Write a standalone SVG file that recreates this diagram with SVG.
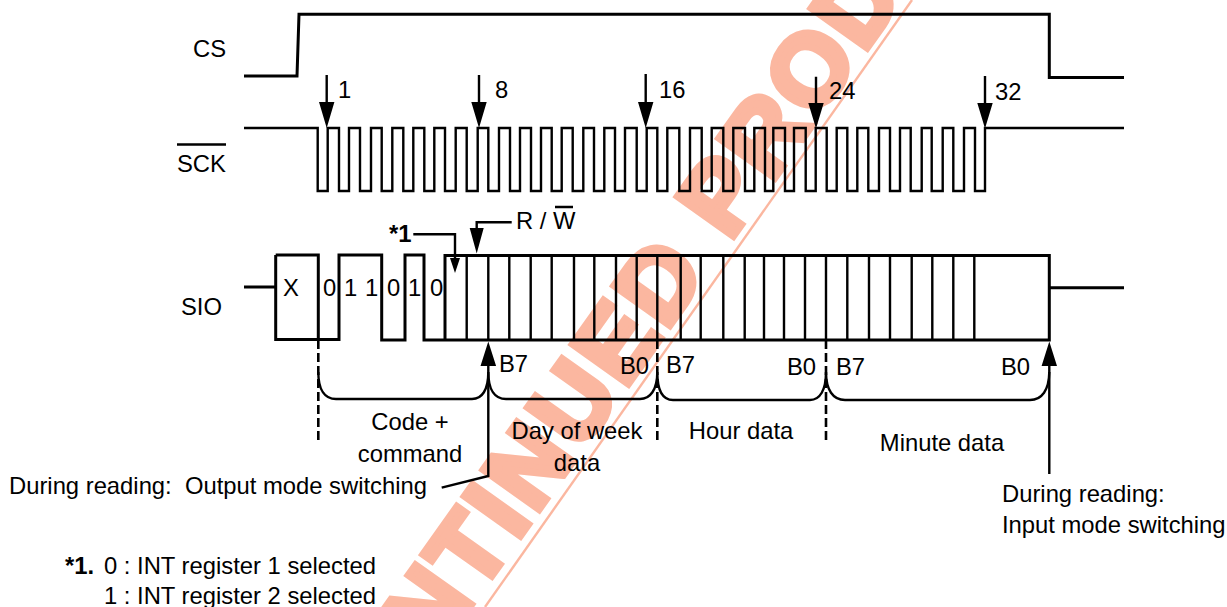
<svg xmlns="http://www.w3.org/2000/svg" width="1227" height="607" viewBox="0 0 1227 607">
<style>
text{font-family:"Liberation Sans",Arial,sans-serif;font-size:23.8px;fill:#000}
.b{font-weight:bold}
.m{text-anchor:middle}
.s{fill:none;stroke:#000;stroke-width:2.4}
.t{fill:none;stroke:#000;stroke-width:3}
.d{fill:none;stroke:#000;stroke-width:2.6;stroke-dasharray:9 4}
.h{fill:#000;stroke:none}
.wm{font-weight:bold;font-size:100px;fill:#fbb7a0;stroke:#fbb7a0;stroke-width:7}
</style>
<g id="watermark">
<text class="wm" transform="translate(433.7 658) rotate(-54.6)" letter-spacing="4.8">NTINUED PROD</text>
<line x1="912" y1="0" x2="485" y2="607" stroke="#fbb7a0" stroke-width="2.4"/>
</g>
<g id="connectors">
<path id="cs-wave" class="t" d="M244 76H297L299 14.3H1049.3V77.5H1124"/>
<path id="sck-wave" class="s" d="M244 128H317.7V191H327.7V128H339V191H349V128H360V191H371V128H381.7V191H392.3V128H403.3V191H413.3V128H424.3V191H434.3V128H445V191H455.7V128H466.7V191H477.7V128H488.3V191H499V128H510V191H520V128H531V191H541V128H551.7V191H561.7V128H572.7V191H583.3V128H594V191H604.3V128H615V191H625V128H636.7V191H646.7V128H657.3V191H667.3V128H679.3V191H690V128H701.7V191H711.7V128H723.3V191H733.3V128H745V191H754.3V128H765V191H773.3V128H785V191H794V128H805.7V191H815.7V128H826.7V191H836.7V128H847.3V191H857.3V128H868.3V191H879V128H890V191H900V128H910.7V191H921.7V128H931.7V191H942.7V128H953.3V191H964V128H975V191H985V128H1124"/>
<path id="sio-wave" class="t" d="M244 287H275.7M275.7 255V339.5H339V255H381.7V340H405V255H424V340H1049.3V255.5H445V340M275.7 255H318.3V340M1049.3 287.7H1124"/>
<path id="sio-bars" class="s" d="M466.7 255.5V340M488.3 255.5V340M509.3 255.5V340M530.7 255.5V340M551.7 255.5V340M574 255.5V340M594.3 255.5V340M616 255.5V340M636.7 255.5V340M657.3 255.5V340M680.7 255.5V340M700.7 255.5V340M723.3 255.5V340M744.7 255.5V340M764 255.5V340M784 255.5V340M805 255.5V340M826 255.5V340M847.3 255.5V340M869 255.5V340M890 255.5V340M911.7 255.5V340M932.3 255.5V340M953.3 255.5V340M974.3 255.5V340"/>
<path class="d" d="M318.3 340V443M657.3 340V443M826 340V443"/>
<path class="s" d="M318.3 372C318.3 390 325 399 336 399H472C482 399 488.3 390 488.3 372C488.3 390 495 399 506 399H640C650 399 657.3 390 657.3 372C657.3 390 662 400 673 400H810C820 400 826 390 826 372C826 390 833 400 845 400H1030C1042 400 1049 390 1049.3 372"/>
<g id="clock-arrows">
<path class="s" d="M326.7 75V105M479 75V105M645.7 74V105M816 76.7V105M985 76V105"/>
<path class="h" d="M319 102H334.4L326.7 128ZM471.3 102H486.7L479 128ZM638 102H653.4L645.7 128ZM808.3 103H823.7L816 128.500ZM977.3 103H992.7L985 128.500Z"/>
</g>
<g id="sio-arrows">
<path class="s" d="M511.700 222.300H476.700V232M413.300 234.300H455V262M488.300 362V476L441.700 487.700M1049.300 362V474"/>
<path class="h" d="M469.700 228H483.700L476.700 253.500ZM450 258H460L455 273ZM480.500 366H496.100L488.300 341.500ZM1041.600 366H1057L1049.300 341.500Z"/>
</g>
<path id="overlines" class="s" d="M177 144.500H226M555 207H573"/>
</g>
<g id="signal-labels">
<text x="193" y="57">CS</text>
<text x="177" y="172">SCK</text>
<text x="181" y="315">SIO</text>
</g>
<g id="clock-labels">
<text x="338" y="98">1</text>
<text x="495" y="98">8</text>
<text x="659" y="98">16</text>
<text x="829" y="99">24</text>
<text x="995" y="100">32</text>
</g>
<g id="sio-labels">
<text x="283" y="296">X</text>
<text x="323" y="296">0</text>
<text x="344" y="296">1</text>
<text x="365" y="296">1</text>
<text x="387" y="296">0</text>
<text x="408" y="296">1</text>
<text x="430" y="296">0</text>
<text x="516" y="229">R / W</text>
<text class="b" x="389" y="242">*1</text>
<text x="499" y="372">B7</text>
<text x="620" y="374">B0</text>
<text x="666" y="373">B7</text>
<text x="787" y="375">B0</text>
<text x="836" y="375">B7</text>
<text x="1001" y="375">B0</text>
</g>
<g id="field-labels">
<text class="m" x="410" y="430">Code +</text>
<text class="m" x="410" y="462">command</text>
<text class="m" x="577" y="439">Day of week</text>
<text class="m" x="577" y="471">data</text>
<text class="m" x="741" y="439">Hour data</text>
<text class="m" x="942" y="451">Minute data</text>
</g>
<g id="notes">
<text x="9" y="494" xml:space="preserve">During reading:  Output mode switching</text>
<text x="1002" y="502">During reading:</text>
<text x="1002" y="533">Input mode switching</text>
<text class="b" x="65" y="574">*1.</text>
<text x="104" y="574">0 : INT register 1 selected</text>
<text x="104" y="604">1 : INT register 2 selected</text>
</g>
</svg>
